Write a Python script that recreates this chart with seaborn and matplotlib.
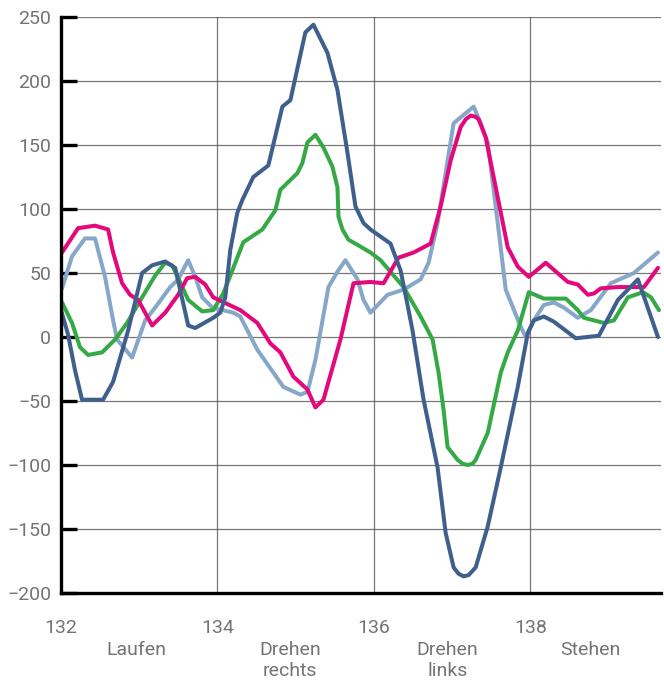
import numpy as np
import pandas as pd
import seaborn as sns
import matplotlib
matplotlib.use("Agg")
import matplotlib.pyplot as plt
import matplotlib.transforms as mtransforms

# --- data -----------------------------------------------------------------
dark_x = [132.000, 132.090, 132.179, 132.269, 132.538, 132.666, 132.858, 133.037,
          133.165, 133.332, 133.460, 133.626, 133.716, 133.946, 134.036, 134.100,
          134.164, 134.254, 134.318, 134.458, 134.650, 134.830, 134.932, 135.124,
          135.227, 135.406, 135.534, 135.662, 135.764, 135.867, 135.956, 136.212,
          136.341, 136.417, 136.494, 136.635, 136.814, 136.917, 137.019, 137.083,
          137.147, 137.211, 137.301, 137.455, 137.621, 137.839, 137.967, 138.044,
          138.172, 138.300, 138.581, 138.876, 139.119, 139.375, 139.631]
dark_y = [21, 2, -26, -49, -49, -35, 5, 50,
          56, 59, 54, 9, 7, 15, 19, 31,
          68, 97, 107, 125, 134, 180, 185, 238,
          244, 222, 193, 144, 102, 89, 84, 73,
          52, 29, 5, -49, -102, -153, -180, -185,
          -187, -186, -180, -148, -102, -39, 3, 13,
          16, 12, -1, 1, 29, 45, 0]

light_x = [132.013, 132.141, 132.307, 132.435, 132.563, 132.666, 132.717, 132.909,
           133.076, 133.204, 133.396, 133.498, 133.626, 133.716, 133.805, 133.933,
           134.202, 134.292, 134.510, 134.843, 135.060, 135.150, 135.252, 135.419,
           135.534, 135.636, 135.790, 135.867, 135.956, 136.174, 136.379, 136.597,
           136.699, 136.814, 137.019, 137.275, 137.365, 137.455, 137.583, 137.685,
           137.877, 137.941, 138.044, 138.172, 138.300, 138.428, 138.607, 138.773,
           139.029, 139.324, 139.631]
light_y = [38, 63, 77, 77, 47, 13, -2, -16,
           13, 23, 39, 45, 60, 47, 31, 23,
           19, 16, -10, -39, -45, -43, -18, 39,
           51, 60, 45, 29, 19, 33, 37, 45,
           58, 89, 167, 180, 167, 152, 89, 37,
           8, 0, 13, 25, 27, 23, 15, 21,
           42, 50, 66]

green_x = [132.013, 132.141, 132.243, 132.346, 132.525, 132.691, 132.845, 133.037,
           133.204, 133.332, 133.421, 133.498, 133.626, 133.805, 133.946, 134.074,
           134.190, 134.330, 134.574, 134.740, 134.804, 135.022, 135.086, 135.150,
           135.252, 135.355, 135.470, 135.534, 135.547, 135.598, 135.675, 135.790,
           135.956, 136.085, 136.379, 136.597, 136.750, 136.827, 136.891, 136.942,
           137.070, 137.134, 137.198, 137.262, 137.301, 137.455, 137.621, 137.711,
           137.839, 137.980, 138.172, 138.453, 138.607, 138.684, 138.940, 139.068,
           139.247, 139.439, 139.542, 139.644]
green_y = [27, 11, -8, -14, -12, -2, 11, 31,
           48, 58, 56, 46, 29, 20, 21, 34,
           52, 74, 84, 99, 115, 128, 136, 152,
           158, 148, 133, 117, 94, 84, 76, 72,
           66, 60, 39, 16, -2, -28, -57, -86,
           -96, -99, -100, -99, -96, -75, -28, -12,
           5, 35, 30, 30, 21, 15, 11, 13,
           31, 35, 31, 21]

pink_x = [132.013, 132.218, 132.435, 132.602, 132.666, 132.781, 132.883, 132.986,
          133.165, 133.332, 133.498, 133.613, 133.716, 133.844, 133.946, 134.292,
          134.510, 134.676, 134.804, 134.971, 135.150, 135.252, 135.355, 135.572,
          135.739, 135.956, 136.123, 136.315, 136.507, 136.725, 136.853, 136.981,
          137.109, 137.173, 137.237, 137.301, 137.339, 137.429, 137.583, 137.711,
          137.839, 137.980, 138.197, 138.479, 138.607, 138.735, 138.812, 138.901,
          139.119, 139.452, 139.631]
pink_y = [66, 85, 87, 84, 66, 42, 33, 29,
          9, 19, 33, 46, 47, 41, 31, 21,
          11, -5, -12, -31, -41, -55, -49, -2,
          42, 43, 42, 62, 66, 73, 102, 138,
          164, 170, 173, 172, 170, 156, 109, 70,
          55, 47, 58, 43, 41, 33, 34, 38,
          39, 39, 54]

series_names = ["Rumpf", "Becken", "Oberschenkel", "Unterschenkel"]
series_colors = ["#87a7c9", "#36a947", "#e3087c", "#3f608d"]

x_ticks = [132, 134, 136, 138]
y_ticks = [-200, -150, -100, -50, 0, 50, 100, 150, 200, 250]
phase_labels = ["Laufen", "Drehen\nrechts", "Drehen\nlinks", "Stehen"]
phase_centers = [132.96, 134.93, 136.94, 138.77]

# --- long-form table ------------------------------------------------------
frames = []
for name, xs, ys in zip(series_names,
                        [light_x, green_x, pink_x, dark_x],
                        [light_y, green_y, pink_y, dark_y]):
    frames.append(pd.DataFrame({"t": xs, "wert": ys, "reihe": name}))
df = pd.concat(frames, ignore_index=True)

# --- figure ---------------------------------------------------------------
sns.set_theme(style="white")
plt.rcParams["font.family"] = ["Roboto", "DejaVu Sans"]

fig = plt.figure(figsize=(6.64, 6.81), dpi=100)
ax = fig.add_axes([61 / 664, 1 - 593 / 681, 600 / 664, (593 - 17) / 681])

sns.lineplot(data=df, x="t", y="wert", hue="reihe", hue_order=series_names,
             palette=dict(zip(series_names, series_colors)), estimator=None,
             sort=False, linewidth=2.9, legend=False, ax=ax,
             solid_joinstyle="round", solid_capstyle="round")

ax.set_xlim(132, 139.67)
ax.set_ylim(-200, 250)
ax.set_xticks(x_ticks)
ax.set_yticks(y_ticks)
ax.set_xlabel("")
ax.set_ylabel("")

ax.grid(True, color="#4a4a4a", linewidth=0.9, alpha=0.75)
ax.set_axisbelow(True)

for side in ["top", "right"]:
    ax.spines[side].set_visible(False)
for side in ["left", "bottom"]:
    ax.spines[side].set_color("black")
    ax.spines[side].set_linewidth(2.4)
    ax.spines[side].set_zorder(5)

label_gray = "#747474"
ax.tick_params(axis="y", direction="in", length=11.5, width=2.4, color="black",
               pad=7, labelsize=14, labelcolor=label_gray, left=True)
ax.tick_params(axis="x", length=0, pad=19, labelsize=14, labelcolor=label_gray,
               bottom=False)

trans = mtransforms.blended_transform_factory(ax.transData, fig.transFigure)
for label, xc in zip(phase_labels, phase_centers):
    fig.text(xc, 1 - 641 / 681, label, transform=trans, ha="center", va="top",
             fontsize=14, color=label_gray, linespacing=1.2)

fig.savefig("out.png", dpi=100)
